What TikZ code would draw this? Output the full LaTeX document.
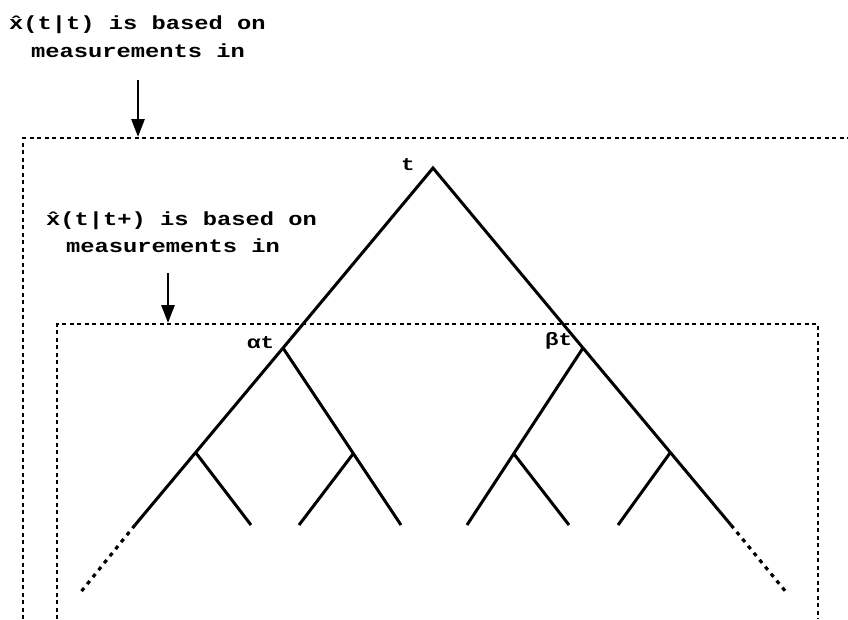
\documentclass[tikz,border=0pt]{standalone}
\usepackage{fontspec}
\newfontfamily\lblfont{Liberation Mono}[FakeStretch=1.25]
\usetikzlibrary{arrows.meta}
\newcommand\xhat{x\char"0302\relax}
\begin{document}
\begin{tikzpicture}[x=1pt,y=-1pt,
  branch/.style={line width=3pt},
  ext/.style={line width=3.2pt, dash pattern=on 4pt off 5pt},
  region/.style={line width=2.8pt, dash pattern=on 4pt off 3.5pt},
  pointer/.style={line width=2.8pt, -{Triangle[width=13pt,length=18pt]}},
  lbl/.style={font=\fontsize{19}{22}\selectfont\lblfont\bfseries, inner sep=0pt, anchor=base west},
  tag/.style={font=\fontsize{18}{20}\selectfont\lblfont\bfseries, inner sep=0pt, anchor=base west}]
\useasboundingbox (0,0) rectangle (848,619);
% regions
\coordinate (o1) at (23,619);
\coordinate (o2) at (23,138);
\coordinate (o3) at (848,138);
\draw[region] (o1) -- (o2) -- (o3);
\coordinate (i1) at (57,619);
\coordinate (i2) at (57,324);
\coordinate (i3) at (818,324);
\coordinate (i4) at (818,619);
\draw[region] (i1) -- (i2) -- (i3) -- (i4);
% tree
\coordinate (A) at (433,168);
\coordinate (L) at (283,348);
\coordinate (R) at (583,348);
\coordinate (LE) at (135,525);
\coordinate (RE) at (731,525);
\coordinate (LD) at (80,593);
\coordinate (RD) at (786,592);
\coordinate (LB) at (196,453);
\coordinate (LBe) at (251,525);
\coordinate (LRe) at (401,525);
\coordinate (LRB) at (353,454);
\coordinate (LRBe) at (299,525);
\coordinate (RLe) at (467,525);
\coordinate (RLB) at (514,454);
\coordinate (RLBe) at (569,525);
\coordinate (RB) at (670,453);
\coordinate (RBe) at (618,525);
\draw[branch] (LE) -- (L) -- (A) -- (R) -- (RE);
\draw[branch] (L) -- (LRe);
\draw[branch] (LB) -- (LBe);
\draw[branch] (LRB) -- (LRBe);
\draw[branch] (R) -- (RLe);
\draw[branch] (RLB) -- (RLBe);
\draw[branch] (RB) -- (RBe);
\draw[ext] (LE) -- (LD);
\draw[ext] (RE) -- (RD);
% tree labels
\node[tag] (tt) at (401,170) {t};
\node[tag] (ta) at (247,348) {αt};
\node[tag] (tb) at (545,345) {βt};
% captions
\node[lbl] (c1a) at (9,29) {\xhat(t|t) is based on};
\node[lbl] (c1b) at (31,57) {measurements in};
\node[lbl] (c2a) at (46,225) {\xhat(t|t+) is based on};
\node[lbl] (c2b) at (66,252) {measurements in};
% pointers
\coordinate (p1s) at (138,80);
\coordinate (p1e) at (138,137);
\draw[pointer] (p1s) -- (p1e);
\coordinate (p2s) at (168,273);
\coordinate (p2e) at (168,323);
\draw[pointer] (p2s) -- (p2e);
\end{tikzpicture}
\end{document}
